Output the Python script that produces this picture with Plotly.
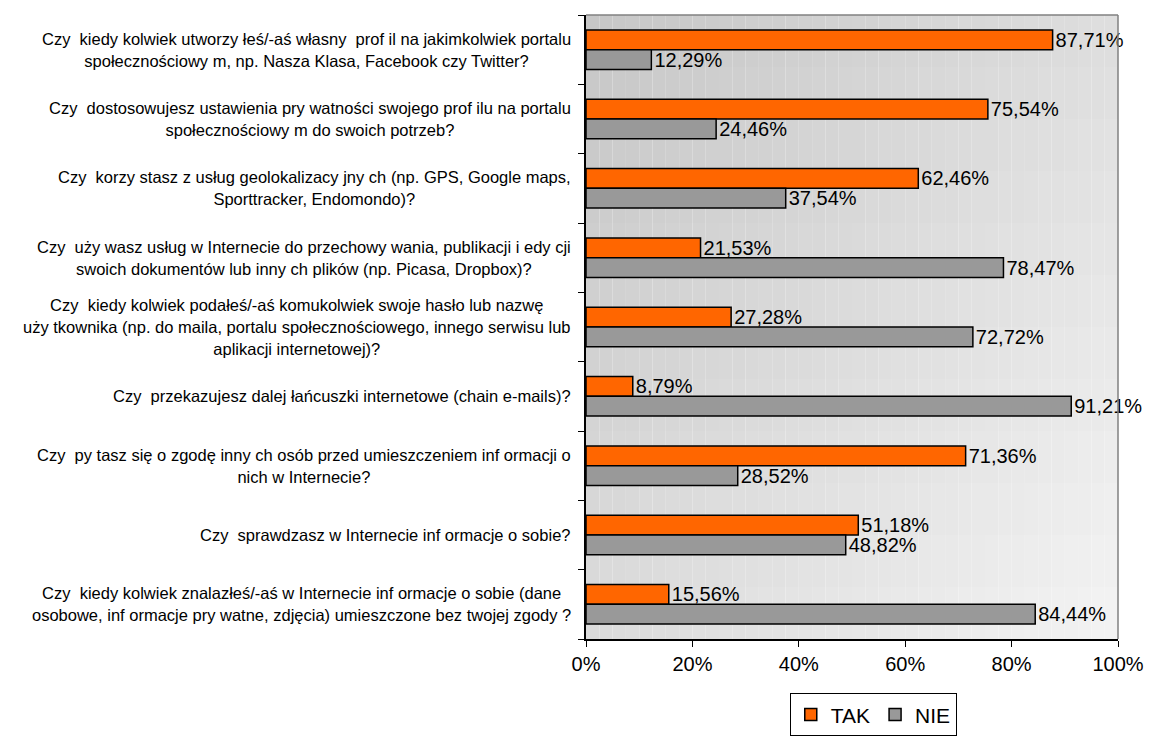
import plotly.graph_objects as go

# questions (line breaks as in the original)
questions = [
    "Czy  kiedy kolwiek utworzy łeś/-aś własny  prof il na jakimkolwiek portalu<br>społecznościowy m, np. Nasza Klasa, Facebook czy Twitter?",
    "Czy  dostosowujesz ustawienia pry watności swojego prof ilu na portalu<br>społecznościowy m do swoich potrzeb?",
    "Czy  korzy stasz z usług geolokalizacy jny ch (np. GPS, Google maps,<br>Sporttracker, Endomondo)?",
    "Czy  uży wasz usług w Internecie do przechowy wania, publikacji i edy cji<br>swoich dokumentów lub inny ch plików (np. Picasa, Dropbox)?",
    "Czy  kiedy kolwiek podałeś/-aś komukolwiek swoje hasło lub nazwę<br>uży tkownika (np. do maila, portalu społecznościowego, innego serwisu lub<br>aplikacji internetowej)?",
    "Czy  przekazujesz dalej łańcuszki internetowe (chain e-mails)?",
    "Czy  py tasz się o zgodę inny ch osób przed umieszczeniem inf ormacji o<br>nich w Internecie?",
    "Czy  sprawdzasz w Internecie inf ormacje o sobie?",
    "Czy  kiedy kolwiek znalazłeś/-aś w Internecie inf ormacje o sobie (dane<br>osobowe, inf ormacje pry watne, zdjęcia) umieszczone bez twojej zgody ?",
]
tak = [87.71, 75.54, 62.46, 21.53, 27.28, 8.79, 71.36, 51.18, 15.56]
nie = [12.29, 24.46, 37.54, 78.47, 72.72, 91.21, 28.52, 48.82, 84.44]
x_ticks = [0, 20, 40, 60, 80, 100]
x_labels = ["0%", "20%", "40%", "60%", "80%", "100%"]

pos = list(range(len(questions)))

fig = go.Figure()
fig.add_trace(go.Bar(
    y=pos, x=tak, name="TAK", orientation="h",
    marker=dict(color="#FF6600", line=dict(color="#000000", width=1.5)),
    texttemplate="%{x:.2f}%", textposition="outside",
    textfont=dict(size=20, color="#000000"), cliponaxis=False, constraintext="none",
))
fig.add_trace(go.Bar(
    y=pos, x=nie, name="NIE", orientation="h",
    marker=dict(color="#999999", line=dict(color="#000000", width=1.5)),
    texttemplate="%{x:.2f}%", textposition="outside",
    textfont=dict(size=20, color="#000000"), cliponaxis=False, constraintext="none",
))

# gradient background of the plot area (dark top-left -> light bottom-right)
shapes = []
nx, ny = 40, 12
for i in range(nx):
    for j in range(ny):
        u = (i + 0.5) / nx
        v = (j + 0.5) / ny  # from top
        c = int(198 + 24 * u + 22 * v)
        shapes.append(dict(
            type="rect", xref="x domain", yref="y domain", layer="below",
            x0=i / nx, x1=(i + 1) / nx, y0=1 - (j + 1) / ny, y1=1 - j / ny,
            fillcolor=f"rgb({c},{c},{c})", line=dict(width=0),
        ))
# gray frame on top and right
shapes.append(dict(type="line", xref="x domain", yref="y domain", x0=0, x1=1, y0=1, y1=1,
                   line=dict(color="#808080", width=1.5)))
shapes.append(dict(type="line", xref="x domain", yref="y domain", x0=1, x1=1, y0=0, y1=1,
                   line=dict(color="#808080", width=1.5)))

annotations = []
for p, q in zip(pos, questions):
    lines = q.split("<br>")
    txt = "<br>".join(f'<span style="font-size:16.5px">{ln}</span>' for ln in lines)
    annotations.append(dict(
        xref="x domain", yref="y", x=0, y=p, xanchor="right", yanchor="middle",
        xshift=-13, align="center", showarrow=False, text=txt,
        font=dict(size=17, color="#000000", family="Liberation Sans, Arial"),
    ))

# the page body keeps its 8px margin, so the figure is 16px smaller than the window
fig.update_layout(
    width=1143, height=735,
    margin=dict(l=578, r=20, t=7, b=100),
    paper_bgcolor="white", plot_bgcolor="rgba(0,0,0,0)",
    font=dict(family="Liberation Sans, Arial", color="#000000"),
    separators=", ",
    barmode="group", bargap=0.43, bargroupgap=0,
    shapes=shapes, annotations=annotations,
    showlegend=True,
    legend=dict(
        orientation="h", x=0.54, xanchor="center", y=-0.087, yanchor="top",
        font=dict(size=21), bgcolor="white", bordercolor="#000000", borderwidth=1,
        traceorder="normal", itemwidth=30,
    ),
    xaxis=dict(
        range=[0, 100], tickmode="array", tickvals=x_ticks, ticktext=x_labels,
        showgrid=False, zeroline=False, ticklabeloverflow="allow",
        showline=True, linecolor="#000000", linewidth=1.5,
        ticks="outside", ticklen=6, tickcolor="#000000", tickfont=dict(size=20),
    ),
    yaxis=dict(
        range=[len(pos) - 0.5, -0.5], tickvals=[i - 0.5 for i in range(len(pos) + 1)],
        ticktext=[""] * (len(pos) + 1), showgrid=False, zeroline=False,
        showline=True, linecolor="#000000", linewidth=1.5,
        ticks="outside", ticklen=6, tickcolor="#000000",
    ),
)

fig.write_html("out.html", config={"displayModeBar": False})
